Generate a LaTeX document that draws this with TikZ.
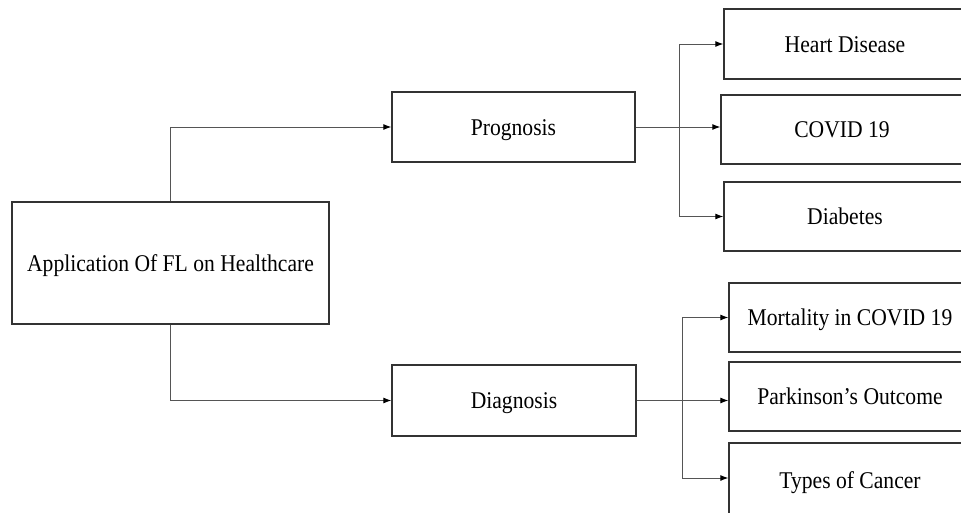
\documentclass[tikz,border=0pt]{standalone}
\usepackage{fontspec}
\setmainfont[FakeStretch=0.9]{Liberation Serif}
\usetikzlibrary{arrows.meta,calc,positioning}
\definecolor{frame}{HTML}{333333}
\definecolor{wire}{HTML}{555555}

\begin{document}
\begin{tikzpicture}[x=1pt,y=-1pt,
    box/.style={draw=frame,line width=1.4pt,fill=white,inner sep=0pt,text height=16pt,text depth=0pt,
      font=\fontsize{24}{28}\selectfont},
    link/.style={draw=wire,line width=0.9pt,-{Latex[length=8pt,width=6pt,color=black]}}]
        \useasboundingbox (0,0) rectangle (961,512);
        \fill[white] (0,0) rectangle (961,512);
        \clip (0,0) rectangle (961,512);
        % root and the two branches
        \node[box,minimum width=317pt,minimum height=122pt] (root) at (170.5,263) {Application Of FL on Healthcare};
        \node[box,minimum width=243pt,minimum height=70pt] (prog) at (513.5,127) {Prognosis};
        \node[box,minimum width=244pt,minimum height=71pt] (diag) at (514,400.5) {Diagnosis};
        % leaves
        \foreach \nm/\cx/\cy/\h/\txt in {heart/845/44/70/{Heart Disease},covid/842/129.5/69/{COVID 19},diab/845/216.5/69/{Diabetes},
          mort/850/317.5/69/{Mortality in COVID 19},park/850/396.5/69/{Parkinson’s Outcome},cancer/850/480/74/{Types of Cancer}}{
          \node[box,minimum width=242pt,minimum height=\h pt] (\nm) at (\cx,\cy) {\txt};}
        \coordinate (pfork) at (679,127);
        \coordinate (dfork) at (682,400.5);
        \draw[link] (root.north) |- (prog.west);
        \draw[link] (root.south) |- (diag.west);
        \draw[link] (prog.east) -- (prog.east -| covid.west);
        \draw[link] (pfork) |- (heart.west);
        \draw[link] (pfork) |- (diab.west);
        \draw[link] (diag.east) -- (diag.east -| park.west);
        \draw[link] (dfork) |- (mort.west);
        \draw[link] (dfork) |- ($(cancer.west)+(0,-2)$);
      \end{tikzpicture}
\end{document}
